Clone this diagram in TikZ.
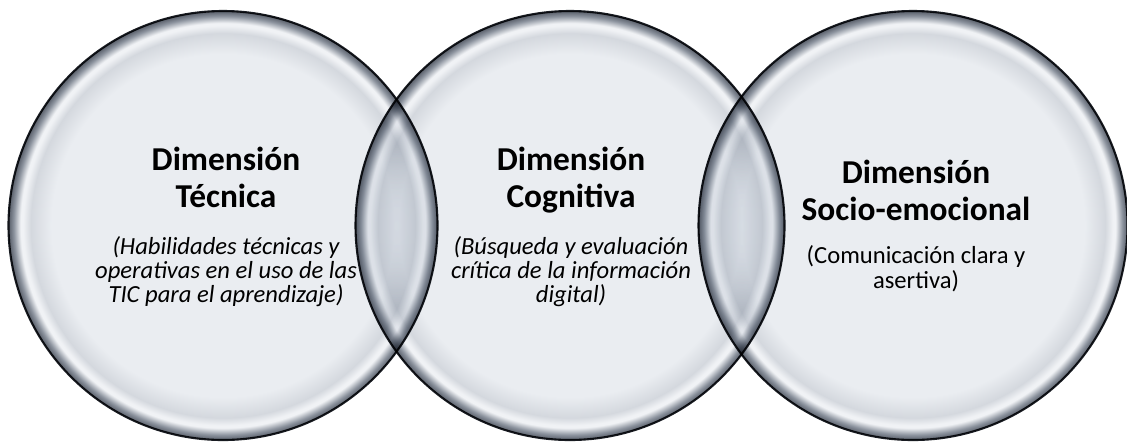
\documentclass[tikz,border=0pt]{standalone}
\usepackage{fontspec}
\setmainfont{Carlito}
\definecolor{bubblein}{RGB}{234,237,241}
\definecolor{bubblemid}{RGB}{212,216,222}
\definecolor{bubblehi}{RGB}{240,242,245}
\definecolor{bubblegray}{RGB}{140,147,158}
\definecolor{bubbledark}{RGB}{88,94,105}
\definecolor{rimline}{RGB}{25,28,34}
\pgfdeclareradialshading{bubble}{\pgfpoint{0bp}{0bp}}{color(0bp)=(bubblein); color(20bp)=(bubblein); color(22.4bp)=(bubblemid); color(23.3bp)=(bubblehi); color(23.6bp)=(bubblehi); color(24.4bp)=(bubblegray); color(25bp)=(bubbledark); color(50bp)=(bubbledark)}

\begin{document}
\begin{tikzpicture}
\tikzstyle{dim}=[circle,draw=rimline,line width=0.6pt,shading=bubble,minimum size=4.29cm,inner sep=0pt]
\tikzstyle{title}=[align=center,inner sep=0pt,font=\fontsize{9.5}{10.5}\selectfont\bfseries]
\tikzstyle{desc}=[align=center,inner sep=0pt,font=\fontsize{7}{6.7}\selectfont\itshape]

\useasboundingbox (0,0) rectangle (11.27,4.41);

\begin{scope}[blend mode=multiply]
\node[dim] (tec) at (2.23,2.155) {};
\node[dim] (cog) at (5.70,2.155) {};
\node[dim] (soc) at (9.13,2.155) {};
\end{scope}

% base = baseline of the last line
\node[title,anchor=base] (tect) at (2.26,2.34) {Dimensión\\Técnica};
\node[desc,anchor=base] (tecd) at (2.26,1.39) {(Habilidades técnicas y\\operativas en el uso de las\\TIC para el aprendizaje)};

\node[title,anchor=base] (cogt) at (5.71,2.34) {Dimensión\\Cognitiva};
\node[desc,anchor=base] (cogd) at (5.71,1.39) {(Búsqueda y evaluación\\crítica de la información\\digital)};

\node[title,anchor=base] (soct) at (9.16,2.21) {Dimensión\\Socio-emocional};
\node[desc,anchor=base,font=\fontsize{7}{7.1}\selectfont] (socd) at (9.16,1.53) {(Comunicación clara y\\asertiva)};

\end{tikzpicture}
\end{document}
